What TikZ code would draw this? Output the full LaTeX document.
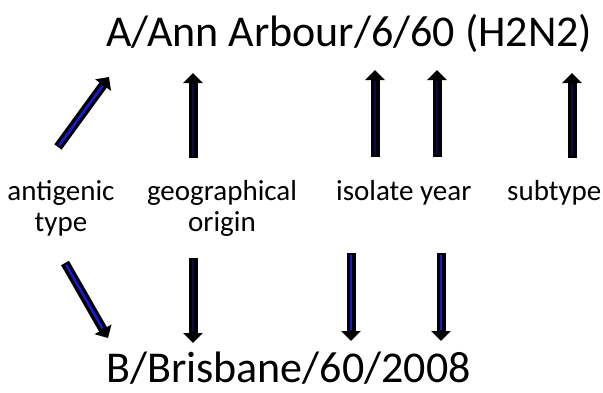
\documentclass[tikz,border=0pt]{standalone}
\usepackage{fontspec}
\setmainfont{Carlito}
\usetikzlibrary{arrows.meta}

\definecolor{corenavy}{RGB}{10,10,70}
\definecolor{coreblue}{RGB}{25,25,215}

\tikzset{
  bigname/.style={anchor=base west, inner sep=0pt, font=\fontsize{44}{52}\selectfont},
  part/.style={inner sep=0pt, align=center, font=\fontsize{29}{31}\selectfont},
  blockarrow/.style={draw=black, line width=9pt,
    -{Triangle[width=19pt,length=10pt]},
    postaction={draw=#1, line width=2.5pt, -, shorten >=11pt, shorten <=2pt}},
}

\begin{document}
\begin{tikzpicture}[x=1pt, y=-1pt]
  \useasboundingbox (0,0) rectangle (603,392);

  % strain names
  \node[bigname] (top) at (106,46) {A/Ann Arbour/6/60 (H2N2)};
  \node[bigname] (bottom) at (106,382) {B/Brisbane/60/2008};

  % name components (base anchor sits on the last line)
  \node[part, anchor=base] (antigen) at (61,231) {antigenic\\type};
  \node[part, anchor=base] (geo) at (222,231) {geographical\\origin};
  \node[part, anchor=base west] (isoyear) at (336,200) {isolate year};
  \node[part, anchor=base west] (subtype) at (507,200) {subtype};

  % arrow ends
  \coordinate (a1) at (58,147);  \coordinate (a2) at (109,77);
  \coordinate (g1) at (193,158); \coordinate (g2) at (193,73);
  \coordinate (i1) at (375,157); \coordinate (i2) at (375,70);
  \coordinate (y1) at (437,157); \coordinate (y2) at (437,70);
  \coordinate (s1) at (572,158); \coordinate (s2) at (572,73);

  \coordinate (b1) at (65,263);  \coordinate (b2) at (108,338);
  \coordinate (h1) at (193,258); \coordinate (h2) at (193,343);
  \coordinate (j1) at (351,253); \coordinate (j2) at (351,341);
  \coordinate (k1) at (441,253); \coordinate (k2) at (441,341);

  % upper set: components of the A strain
  \draw[blockarrow=coreblue] (a1) -- (a2);
  \draw[blockarrow=corenavy] (g1) -- (g2);
  \draw[blockarrow=corenavy] (i1) -- (i2);
  \draw[blockarrow=corenavy] (y1) -- (y2);
  \draw[blockarrow=corenavy] (s1) -- (s2);

  % lower set: components of the B strain
  \draw[blockarrow=coreblue] (b1) -- (b2);
  \draw[blockarrow=corenavy] (h1) -- (h2);
  \draw[blockarrow=coreblue] (j1) -- (j2);
  \draw[blockarrow=coreblue] (k1) -- (k2);
\end{tikzpicture}
\end{document}
